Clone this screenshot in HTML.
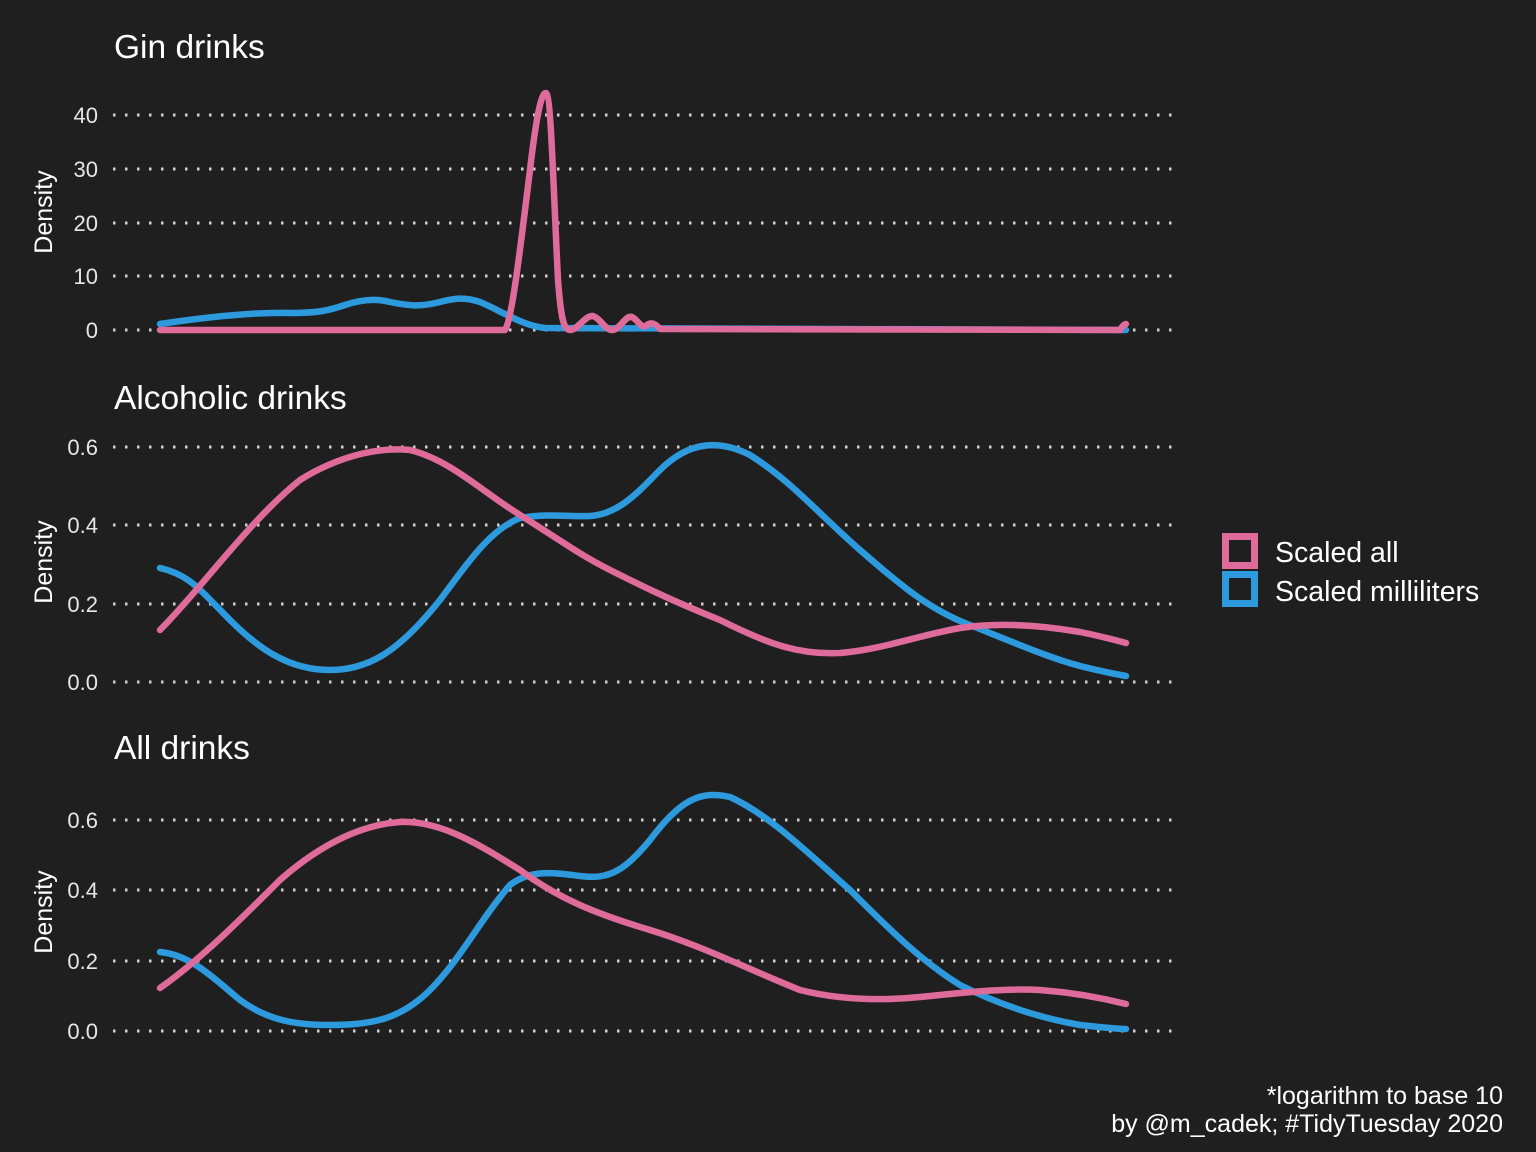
<!DOCTYPE html>
<html><head><meta charset="utf-8"><style>
html,body{margin:0;padding:0;background:#1f1f1f;}
svg{display:block;font-family:"Liberation Sans",Arial,sans-serif;}
</style></head><body>
<svg width="1536" height="1152" viewBox="0 0 1536 1152" xmlns="http://www.w3.org/2000/svg">
<rect width="1536" height="1152" fill="#1f1f1f"/>
<g stroke="#d0d0d0" stroke-width="3" stroke-dasharray="2.5,9.5" fill="none">
<path d="M113,115H1172M113,169H1172M113,223H1172M113,276H1172M113,330H1172"/>
<path d="M113,447H1172M113,525H1172M113,604H1172M113,682H1172"/>
<path d="M113,820H1172M113,890H1172M113,961H1172M113,1031H1172"/>
</g>
<g fill="#ffffff">
<text x="114" y="58" font-size="33.5">Gin drinks</text>
<text x="114" y="409" font-size="33.5">Alcoholic drinks</text>
<text x="114" y="759" font-size="33.5">All drinks</text>
</g>
<g fill="#e6e6e6" font-size="22" text-anchor="end">
<text x="98" y="123">40</text><text x="98" y="177">30</text><text x="98" y="231">20</text><text x="98" y="284">10</text><text x="98" y="338">0</text>
<text x="98" y="455">0.6</text><text x="98" y="533">0.4</text><text x="98" y="612">0.2</text><text x="98" y="690">0.0</text>
<text x="98" y="828">0.6</text><text x="98" y="898">0.4</text><text x="98" y="969">0.2</text><text x="98" y="1039">0.0</text>
</g>
<g fill="#ffffff" font-size="25" text-anchor="middle">
<text transform="translate(52,212) rotate(-90)">Density</text>
<text transform="translate(52,562) rotate(-90)">Density</text>
<text transform="translate(52,912) rotate(-90)">Density</text>
</g>
<g fill="none" stroke-width="6.5" stroke-linejoin="round" stroke-linecap="round">
<path stroke="#2d9ade" d="M160,324 C200,318 250,312 290,313 C320,313 330,310 345,305 C360,300 375,298 390,302 C410,306 420,307 440,302 C455,298 465,297 480,302 C500,310 520,325 545,328 L1126,330"/>
<path stroke="#de6b9a" d="M160,330 L505,330 C512,320 520,250 530,170 C537,110 542,92 546,93 C551,95 553,180 558,280 C561,320 564,330 570,330 C578,330 585,315 593,316 C600,318 605,330 612,330 C620,330 625,315 632,317 C638,320 642,330 647,325 C651,322 655,323 660,329 L1120,330 C1122,326 1125,324 1126,324"/>
<path stroke="#2d9ade" d="M160,568 C190,575 200,590 230,620 C260,650 290,670 330,670 C370,670 400,650 440,600 C470,560 490,530 520,518 C550,513 570,517 590,516 C620,514 640,490 660,470 C690,440 720,440 750,455 C790,480 820,515 860,550 C900,585 930,610 970,625 C1020,645 1050,658 1080,666 C1100,671 1115,674 1126,676"/>
<path stroke="#de6b9a" d="M160,630 C200,590 250,520 300,480 C340,455 380,447 410,450 C450,460 480,490 520,515 C560,540 580,555 610,570 C640,585 670,600 720,620 C770,645 800,655 840,653 C880,650 920,635 960,628 C1000,622 1040,625 1080,632 C1100,636 1115,640 1126,643"/>
<path stroke="#2d9ade" d="M160,952 C190,955 210,975 240,1000 C270,1022 300,1025 330,1025 C370,1025 400,1020 430,990 C460,960 480,920 510,885 C530,870 550,872 580,876 C610,880 625,870 650,840 C680,800 700,790 730,797 C770,815 810,855 850,890 C890,930 920,960 960,985 C1000,1005 1040,1018 1080,1025 C1100,1027 1115,1029 1126,1029"/>
<path stroke="#de6b9a" d="M160,988 C200,960 240,920 280,880 C320,845 360,825 400,822 C440,820 480,845 520,870 C560,900 600,915 650,930 C700,945 750,970 800,990 C840,1000 880,1001 920,997 C960,993 1000,988 1040,990 C1080,993 1110,1000 1126,1004"/>
</g>
<rect x="1225.5" y="536.5" width="29" height="29" fill="none" stroke="#de6b9a" stroke-width="7"/>
<rect x="1225.5" y="574.5" width="29" height="29" fill="none" stroke="#2d9ade" stroke-width="7"/>
<g fill="#ffffff" font-size="28.5">
<text x="1275" y="562">Scaled all</text>
<text x="1275" y="601">Scaled milliliters</text>
</g>
<g fill="#ffffff" font-size="25" text-anchor="end">
<text x="1503" y="1104">*logarithm to base 10</text>
<text x="1503" y="1132">by @m_cadek; #TidyTuesday 2020</text>
</g>
</svg>
</body></html>
